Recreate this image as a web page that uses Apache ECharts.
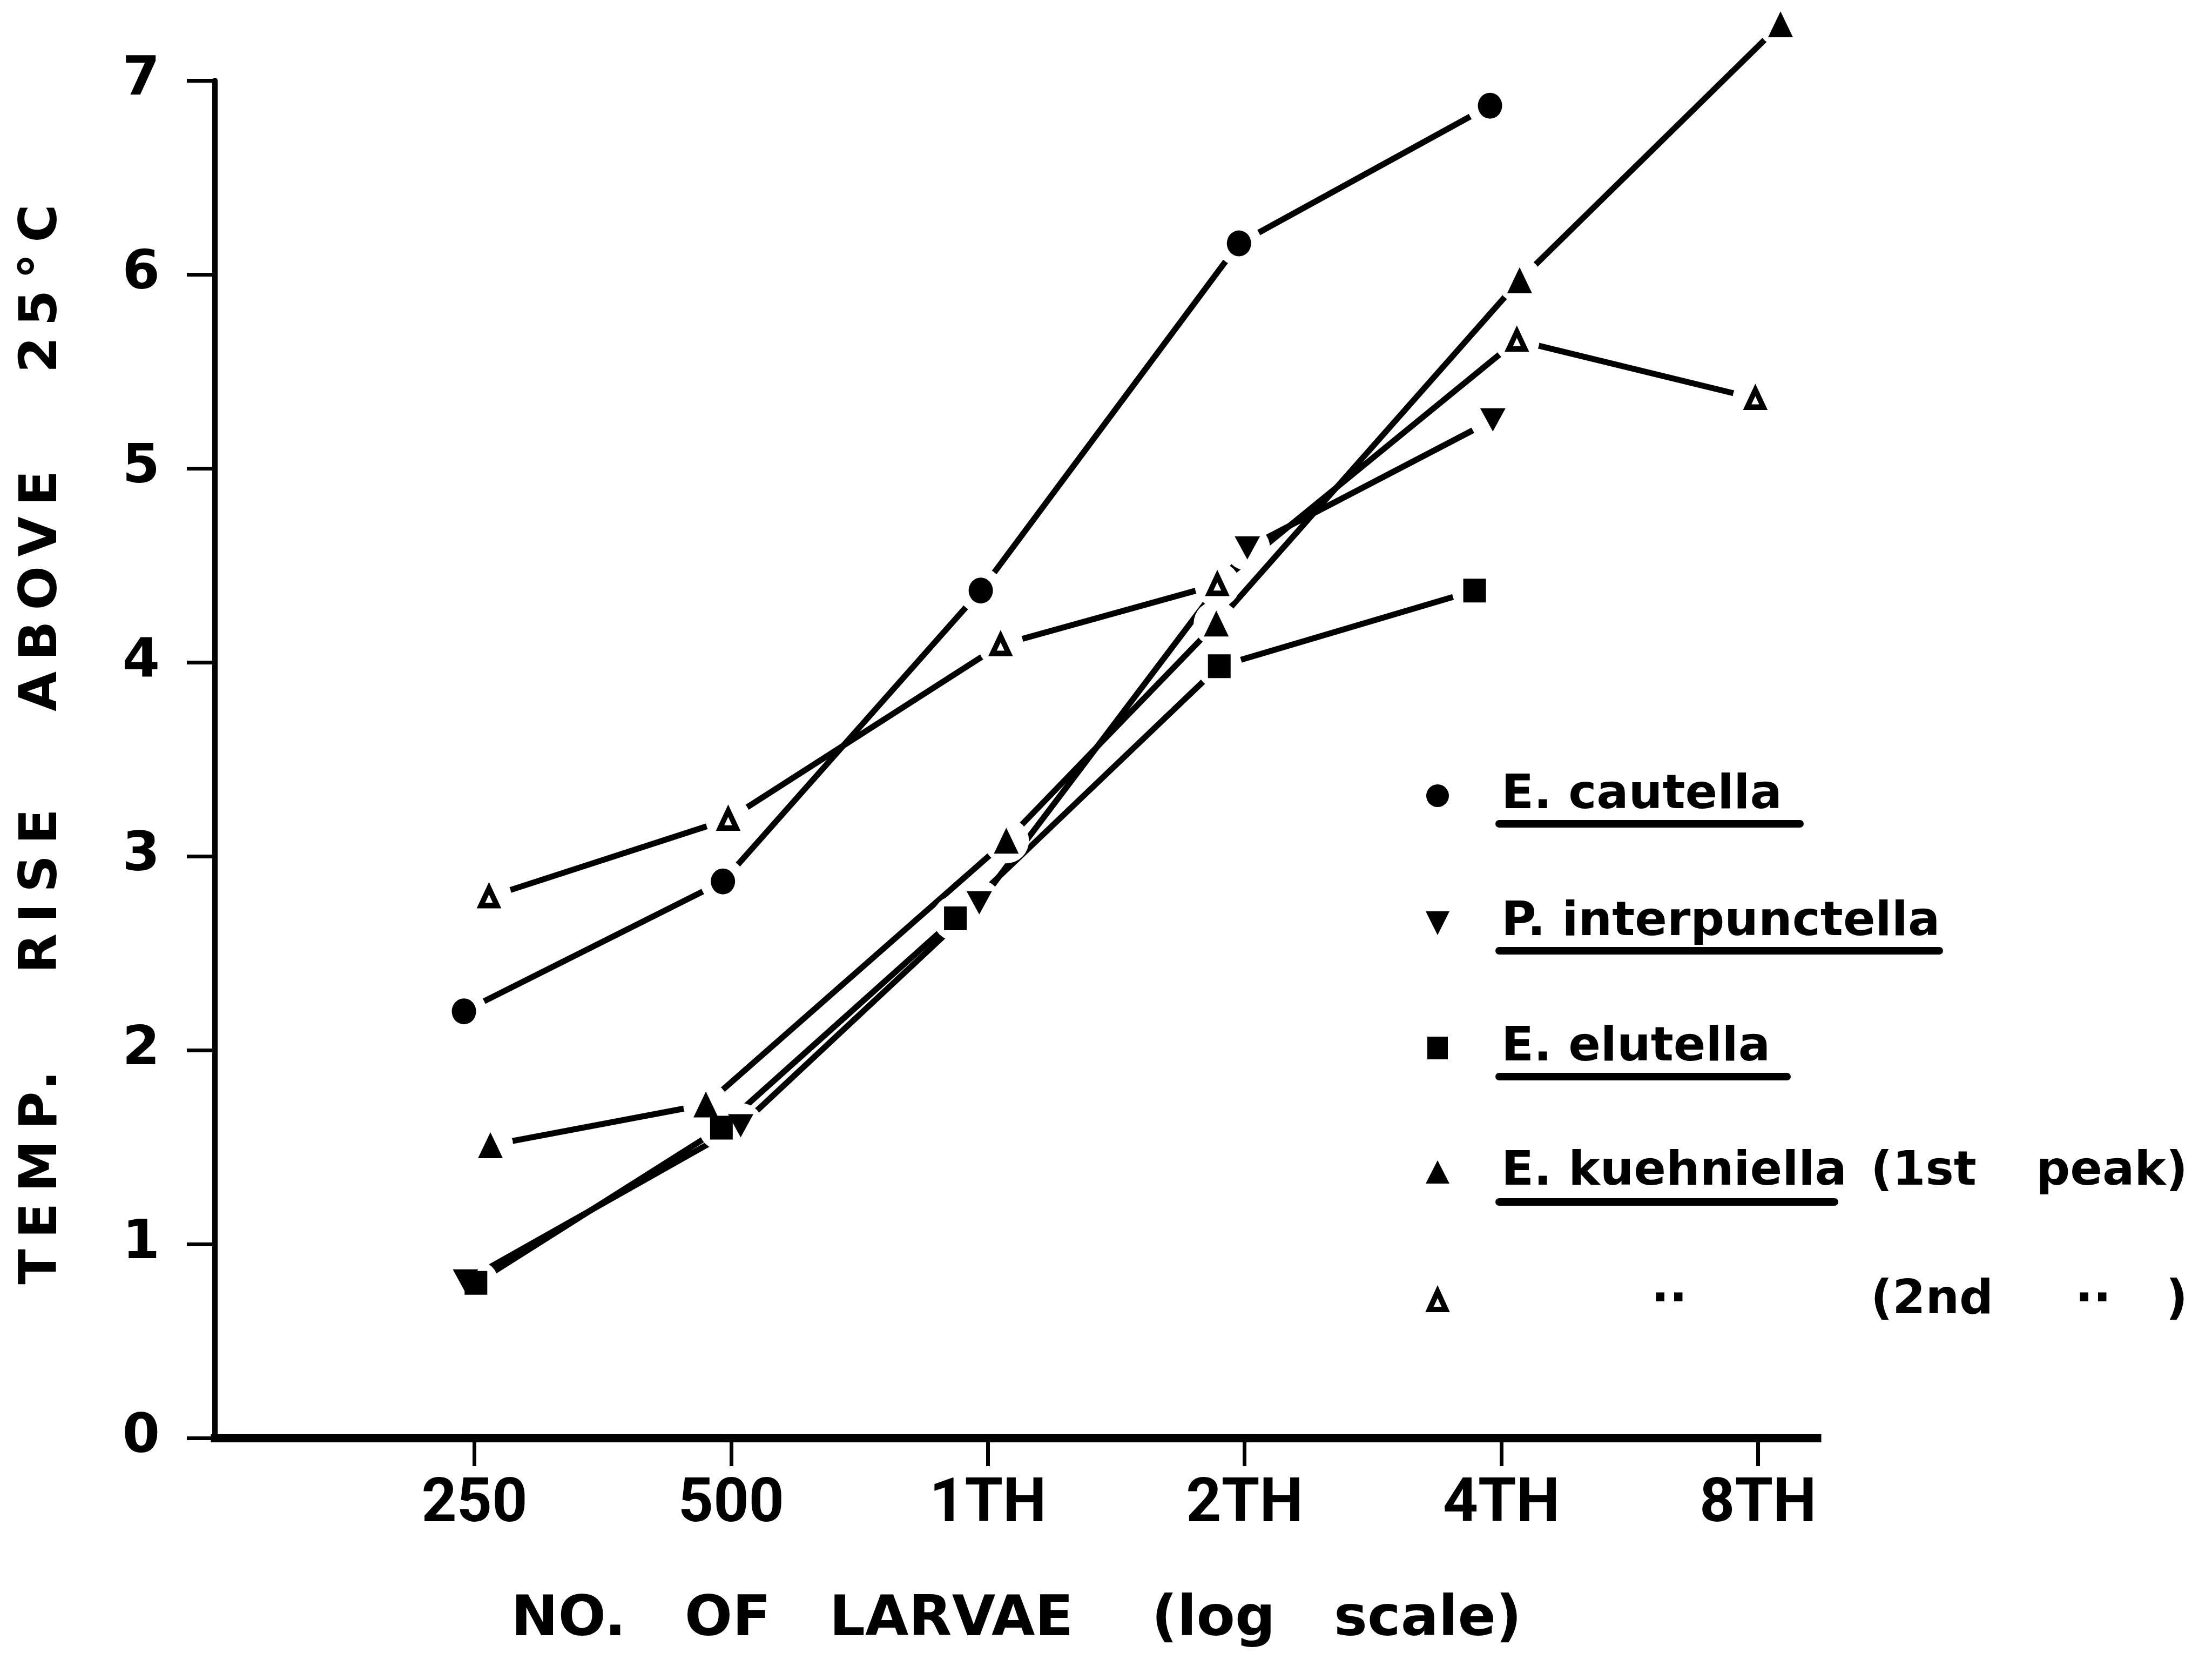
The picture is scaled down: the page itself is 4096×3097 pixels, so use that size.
<!DOCTYPE html>
<html>
<head>
<meta charset="utf-8">
<script src="https://cdn.jsdelivr.net/npm/echarts@6/dist/echarts.min.js"></script>
<style>
html,body{margin:0;padding:0;background:#ffffff;}
#chart{width:4096px;height:3097px;}
</style>
</head>
<body>
<div id="chart"></div>
<script>
// ---------------- DATA ----------------
const xTickValues = [250, 500, 1000, 2000, 4000, 8000];
const xTickLabels = ['250', '500', '1TH', '2TH', '4TH', '8TH'];
const yTickLabels = ['0', '1', '2', '3', '4', '5', '6', '7'];

const seriesNames = ['E. cautella', 'P. interpunctella', 'E. elutella',
                     'E. kuehniella (1st peak)', 'E. kuehniella (2nd peak)'];

const cautellaN = [243, 489, 981, 1970, 3880];
const cautellaT = [2.20, 2.87, 4.37, 6.16, 6.87];

const interpN = [244, 513, 977, 2015, 3910];
const interpT = [0.81, 1.61, 2.76, 4.59, 5.25];

const elutellaN = [251, 487, 916, 1868, 3722];
const elutellaT = [0.80, 1.60, 2.68, 3.98, 4.37];

const kue1N = [261, 467, 1051, 1853, 4203, 8502];
const kue1T = [1.51, 1.72, 3.08, 4.20, 5.97, 7.29];

const kue2N = [260, 496, 1035, 1858, 4172, 7943];
const kue2T = [2.79, 3.19, 4.09, 4.40, 5.66, 5.36];

const xTitle = 'NO.   OF   LARVAE    (log   scale)';
const yTitle = 'TEMP.   RISE   ABOVE   25°C';

// ---------------- letter spacing for the y title (canvas text styling) ----------------
const LETTER_SPACING = {};
LETTER_SPACING[yTitle] = '20px';
(function () {
  const proto = CanvasRenderingContext2D.prototype;
  if (!('letterSpacing' in proto)) return;
  const orig = proto.fillText;
  proto.fillText = function (t, x, y, w) {
    const ls = LETTER_SPACING[t];
    if (ls) {
      this.save();
      this.letterSpacing = ls;
      const r = (w === undefined) ? orig.call(this, t, x, y) : orig.call(this, t, x, y, w);
      this.restore();
      return r;
    }
    return (w === undefined) ? orig.call(this, t, x, y) : orig.call(this, t, x, y, w);
  };
})();

// ---------------- STYLE / LAYOUT ----------------
const FONT = "'DejaVu Sans', 'Noto Sans', sans-serif";
const BLACK = '#000000';

const zip = (a, b) => a.map((v, i) => [v, b[i]]);

const seriesDefs = [
  { name: seriesNames[0], data: zip(cautellaN, cautellaT), symbol: 'circle', size: [45, 48], rotate: 0, fill: BLACK, border: 0 },
  { name: seriesNames[1], data: zip(interpN, interpT), symbol: 'triangle', size: [47, 43], rotate: 180, fill: BLACK, border: 0 },
  { name: seriesNames[2], data: zip(elutellaN, elutellaT), symbol: 'rect', size: [42, 44], rotate: 0, fill: BLACK, border: 0 },
  { name: seriesNames[3], data: zip(kue1N, kue1T), symbol: 'triangle', size: [46, 48], rotate: 0, fill: BLACK, border: 0 },
  { name: seriesNames[4], data: zip(kue2N, kue2T), symbol: 'triangle', size: [30, 32], rotate: 0, fill: '#ffffff', border: 10 }
];

const series = [];
seriesDefs.forEach(d => {
  series.push({
    name: d.name, type: 'line', data: d.data, symbol: 'none', showSymbol: false,
    clip: false, z: 2, silent: true,
    lineStyle: { color: BLACK, width: 11, cap: 'round' }
  });
});
seriesDefs.forEach(d => {
  series.push({
    name: d.name + ' halo', type: 'scatter', data: d.data, symbol: 'circle', symbolSize: 84,
    clip: false, z: 3, silent: true,
    itemStyle: { color: '#ffffff', opacity: 1 }
  });
});
seriesDefs.forEach(d => {
  series.push({
    name: d.name, type: 'scatter', data: d.data, symbol: d.symbol, symbolSize: d.size,
    symbolRotate: d.rotate, clip: false, z: 4, silent: true,
    itemStyle: { color: d.fill, borderColor: BLACK, borderWidth: d.border, borderJoin: 'miter', opacity: 1 }
  });
});

// ---------------- legend (drawn as graphic decorations) ----------------
const LX = 2662;          // marker centre x
const TX = 2780;          // text start x
const legFont = 'bold 88px ' + FONT;
const rows = [1473, 1708, 1940, 2170, 2408];
const ulY = [1525, 1760, 1993, 2225];
const ulEnd = [3333, 3591, 3309, 3397];

function txt(str, x, y, align, font) {
  return { type: 'text', x: x, y: y, silent: true,
    style: { text: str, x: 0, y: 0, font: font, fill: BLACK,
             align: align, verticalAlign: 'middle', textAlign: align, textVerticalAlign: 'middle' } };
}
const graphics = [];
// axis titles (drawn first)
const yt = txt(yTitle, 79, 1368, 'center', 'bold 96px ' + FONT);
yt.rotation = Math.PI / 2;
graphics.push(yt);
graphics.push(txt(xTitle, 1882, 3000, 'center', 'bold 104px ' + FONT));
// markers
graphics.push({ type: 'circle', silent: true, shape: { cx: LX, cy: rows[0], r: 21 }, style: { fill: BLACK } });
graphics.push({ type: 'polygon', silent: true, shape: { points: [[LX - 22, rows[1] - 21], [LX + 22, rows[1] - 21], [LX, rows[1] + 23]] }, style: { fill: BLACK } });
graphics.push({ type: 'rect', silent: true, shape: { x: LX - 19, y: rows[2] - 21, width: 38, height: 42 }, style: { fill: BLACK } });
graphics.push({ type: 'polygon', silent: true, shape: { points: [[LX, rows[3] - 22], [LX + 22, rows[3] + 21], [LX - 22, rows[3] + 21]] }, style: { fill: BLACK } });
graphics.push({ type: 'polygon', silent: true, shape: { points: [[LX, rows[4] - 17], [LX + 15, rows[4] + 16], [LX - 15, rows[4] + 16]] }, style: { fill: '#ffffff', stroke: BLACK, lineWidth: 10, lineJoin: 'miter' } });
// texts
graphics.push(txt('E. cautella', TX, rows[0], 'left', legFont));
graphics.push(txt('P. interpunctella', TX, rows[1], 'left', legFont));
graphics.push(txt('E. elutella', TX, rows[2], 'left', legFont));
graphics.push(txt('E. kuehniella', TX, rows[3], 'left', legFont));
graphics.push(txt('(1st', 3464, rows[3], 'left', legFont));
graphics.push(txt('peak)', 4051, rows[3], 'right', legFont));
graphics.push(txt('··', 3091, rows[4], 'center', legFont));
graphics.push(txt('(2nd', 3464, rows[4], 'left', legFont));
graphics.push(txt('··', 3876, rows[4], 'center', legFont));
graphics.push(txt(')', 4051, rows[4], 'right', legFont));
// underlines
for (let i = 0; i < 4; i++) {
  graphics.push({ type: 'line', silent: true, shape: { x1: 2776, y1: ulY[i], x2: ulEnd[i], y2: ulY[i] },
    style: { stroke: BLACK, lineWidth: 14, lineCap: 'round' } });
}

// ---------------- CHART ----------------
const chart = echarts.init(document.getElementById('chart'), null, { renderer: 'canvas', width: 4096, height: 3097 });

function xLabel(v) {
  let best = 0, bd = Infinity;
  xTickValues.forEach((t, i) => { const d = Math.abs(Math.log(v / t)); if (d < bd) { bd = d; best = i; } });
  return xTickLabels[best];
}

chart.setOption({
  animation: false,
  backgroundColor: '#ffffff',
  grid: { left: 398, right: 731, top: 149, bottom: 435, containLabel: false, outerBoundsMode: 'none' },
  xAxis: {
    type: 'log', logBase: 2, min: 124.05, max: 9388,
    axisLine: { show: true, onZero: false, lineStyle: { color: BLACK, width: 15, cap: 'square' } },
    axisTick: { show: true, inside: false, length: 52, customValues: xTickValues, lineStyle: { color: BLACK, width: 7 } },
    axisLabel: { show: true, customValues: xTickValues, margin: 68, formatter: xLabel,
      color: BLACK, fontFamily: "Roboto, 'DejaVu Sans', sans-serif", fontWeight: 'bold', fontSize: 114 },
    splitLine: { show: false }, minorTick: { show: false }, minorSplitLine: { show: false }
  },
  yAxis: {
    type: 'value', min: 0, max: 7, interval: 1,
    axisLine: { show: true, onZero: false, lineStyle: { color: BLACK, width: 10 } },
    axisTick: { show: true, inside: false, length: 52, lineStyle: { color: BLACK, width: 7 } },
    axisLabel: { show: true, margin: 102, formatter: v => yTickLabels[Math.round(v)],
      color: BLACK, fontFamily: FONT, fontWeight: 'bold', fontSize: 100 },
    splitLine: { show: false }
  },
  graphic: { elements: graphics },
  series: series
});
</script>
</body>
</html>
